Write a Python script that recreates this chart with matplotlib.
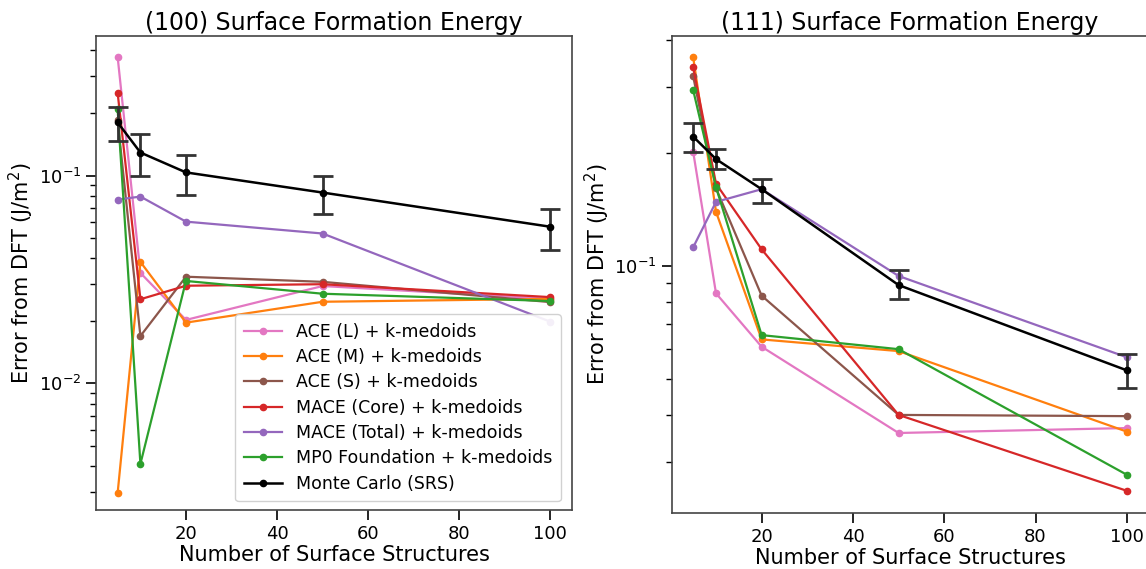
import matplotlib
matplotlib.use("Agg")
import matplotlib.pyplot as plt
import numpy as np

n_structures = [5, 10, 20, 50, 100]

labels = ["ACE (L) + k-medoids", "ACE (M) + k-medoids", "ACE (S) + k-medoids",
          "MACE (Core) + k-medoids", "MACE (Total) + k-medoids",
          "MP0 Foundation + k-medoids"]
colors = ["tab:pink", "tab:orange", "tab:brown", "tab:red", "tab:purple", "tab:green"]

# (100) surface
s100_ace_l = [0.372, 0.034, 0.0202, 0.0294, 0.0255]
s100_ace_m = [0.00297, 0.0384, 0.0196, 0.0247, 0.0255]
s100_ace_s = [0.184, 0.0169, 0.0326, 0.0308, 0.0246]
s100_mace_core = [0.250, 0.0254, 0.0295, 0.0300, 0.0260]
s100_mace_total = [0.0766, 0.0792, 0.0600, 0.0526, 0.0198]
s100_mp0 = [0.208, 0.0041, 0.0311, 0.0270, 0.0249]
s100_mc = [0.180, 0.129, 0.1035, 0.0828, 0.0567]
s100_mc_lo = [0.146, 0.100, 0.081, 0.0655, 0.0439]
s100_mc_hi = [0.213, 0.158, 0.126, 0.100, 0.0693]

# (111) surface
s111_ace_l = [0.2013, 0.0844, 0.0608, 0.0358, 0.0369]
s111_ace_m = [0.360, 0.1393, 0.0636, 0.0592, 0.0361]
s111_ace_s = [0.320, 0.161, 0.0832, 0.0400, 0.0397]
s111_mace_core = [0.338, 0.1655, 0.1106, 0.0400, 0.0251]
s111_mace_total = [0.112, 0.148, 0.160, 0.0939, 0.0570]
s111_mp0 = [0.294, 0.162, 0.0653, 0.0599, 0.0277]
s111_mc = [0.221, 0.1925, 0.160, 0.0888, 0.0526]
s111_mc_lo = [0.2006, 0.1807, 0.147, 0.0815, 0.0471]
s111_mc_hi = [0.240, 0.2045, 0.170, 0.0974, 0.0582]

panels = [
    ("(100) Surface Formation Energy",
     [s100_ace_l, s100_ace_m, s100_ace_s, s100_mace_core, s100_mace_total, s100_mp0],
     s100_mc, s100_mc_lo, s100_mc_hi, (0.00246, 0.469)),
    ("(111) Surface Formation Energy",
     [s111_ace_l, s111_ace_m, s111_ace_s, s111_mace_core, s111_mace_total, s111_mp0],
     s111_mc, s111_mc_lo, s111_mc_hi, (0.0219, 0.41)),
]

fig = plt.figure(figsize=(11.46, 5.69), dpi=100)
W, H = 1146, 569
axes_px = [(96, 36, 572, 510), (671.5, 36, 1148.5, 513)]

for (title, series, mc, lo, hi, ylim), (x0, y0, x1, y1) in zip(panels, axes_px):
    ax = fig.add_axes([x0 / W, 1 - y1 / H, (x1 - x0) / W, (y1 - y0) / H])
    for vals, lab, col in zip(series, labels, colors):
        ax.plot(n_structures, vals, "-o", color=col, lw=1.6, ms=4.5, label=lab)
    mc_arr = np.array(mc)
    yerr = np.vstack([mc_arr - np.array(lo), np.array(hi) - mc_arr])
    ax.errorbar(n_structures, mc, yerr=yerr, fmt="none", ecolor="#333333",
                elinewidth=2, capsize=7, capthick=2, zorder=4)
    ax.plot(n_structures, mc, "-o", color="black", lw=1.8, ms=4.5,
            label="Monte Carlo (SRS)", zorder=5)
    ax.set_yscale("log")
    ax.set_ylim(*ylim)
    ax.set_xlim(0.25, 104.75)
    ax.set_xticks([20, 40, 60, 80, 100])
    ax.set_title(title, fontsize=17, pad=4)
    ax.set_xlabel("Number of Surface Structures", fontsize=15, labelpad=2)
    ax.set_ylabel("Error from DFT (J/m$^2$)", fontsize=15, labelpad=2)
    ax.tick_params(axis="both", which="major", labelsize=13, length=7, width=1.2)
    ax.tick_params(axis="y", which="minor", length=4, width=1.0)
    for sp in ax.spines.values():
        sp.set_linewidth(1.2)
        sp.set_color("#444444")
    if title.startswith("(100)"):
        ax.legend(loc="lower right", fontsize=12.5, framealpha=0.9,
                  borderpad=0.5, labelspacing=0.42, handlelength=2.2,
                  bbox_to_anchor=(0.995, 0.0))

fig.savefig("out.png", dpi=100)
